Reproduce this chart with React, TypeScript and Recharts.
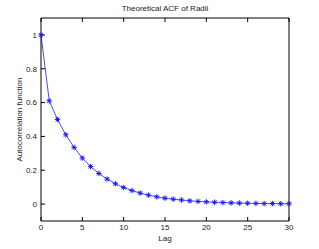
import { LineChart, Line, XAxis, YAxis } from "recharts";

const lags = [0, 1, 2, 3, 4, 5, 6, 7, 8, 9, 10, 11, 12, 13, 14, 15, 16, 17, 18, 19, 20, 21, 22, 23, 24, 25, 26, 27, 28, 29, 30];
const acf = [
  1, 0.61, 0.5, 0.41, 0.335, 0.272, 0.222, 0.181, 0.148, 0.12, 0.098, 0.08, 0.065, 0.053, 0.043, 0.035,
  0.029, 0.024, 0.019, 0.016, 0.013, 0.011, 0.009, 0.007, 0.006, 0.005, 0.004, 0.003, 0.003, 0.002, 0.002,
];
const xTicks = [0, 5, 10, 15, 20, 25, 30];
const yTicks = [0, 0.2, 0.4, 0.6, 0.8, 1];

const data = lags.map((lag, i) => ({ lag, acf: acf[i] }));

const font = "'Liberation Sans', Arial, sans-serif";
const tickStyle = { fill: "#222", fontSize: 8, fontFamily: font };
const blue = "#1a1aff";

// matlab-ish '*' marker
function Star(props: any) {
  const { cx, cy } = props;
  if (cx == null || cy == null) return null;
  const r = 2.7;
  const d = r * 0.72;
  return (
    <g stroke={blue} strokeWidth={1}>
      <line x1={cx - r} y1={cy} x2={cx + r} y2={cy} />
      <line x1={cx} y1={cy - r} x2={cx} y2={cy + r} />
      <line x1={cx - d} y1={cy - d} x2={cx + d} y2={cy + d} />
      <line x1={cx - d} y1={cy + d} x2={cx + d} y2={cy - d} />
    </g>
  );
}

const blank = () => "";

export default function App() {
  return (
    <div style={{ position: "fixed", left: 0, top: 0, width: 319, height: 249, background: "#fff" }}>
      <div
        style={{
          position: "absolute",
          top: 4,
          left: 41,
          width: 248,
          textAlign: "center",
          fontFamily: font,
          fontSize: 8,
          color: "#222",
        }}
      >
        Theoretical ACF of Radii
      </div>
      <LineChart width={319} height={249} data={data} margin={{ top: 0, right: 0, bottom: 0, left: 0 }}>
        <XAxis
          xAxisId="b"
          dataKey="lag"
          type="number"
          domain={[0, 30]}
          ticks={xTicks}
          height={28}
          tickSize={-4}
          tickMargin={7}
          tick={tickStyle}
          stroke="#000"
          tickLine={{ stroke: "#000" }}
          label={{ value: "Lag", position: "insideBottom", offset: 8, style: { ...tickStyle, textAnchor: "middle" } }}
        />
        <XAxis
          xAxisId="t"
          orientation="top"
          dataKey="lag"
          type="number"
          domain={[0, 30]}
          ticks={xTicks}
          height={18}
          tickSize={-4}
          tickFormatter={blank}
          stroke="#000"
        />
        <YAxis
          yAxisId="l"
          type="number"
          domain={[-0.1, 1.1]}
          ticks={yTicks}
          width={41}
          tickSize={-4}
          tickMargin={8}
          tick={tickStyle}
          stroke="#000"
          label={{
            value: "Autocorrelation function",
            angle: -90,
            position: "insideLeft",
            offset: 19,
            style: { ...tickStyle, textAnchor: "middle" },
          }}
        />
        <YAxis
          yAxisId="r"
          orientation="right"
          type="number"
          domain={[-0.1, 1.1]}
          ticks={yTicks}
          width={30}
          tickSize={-4}
          tickFormatter={blank}
          stroke="#000"
        />
        <Line
          xAxisId="b"
          yAxisId="l"
          dataKey="acf"
          type="linear"
          stroke={blue}
          strokeWidth={0.8}
          dot={<Star />}
          activeDot={false}
          isAnimationActive={false}
        />
      </LineChart>
    </div>
  );
}
